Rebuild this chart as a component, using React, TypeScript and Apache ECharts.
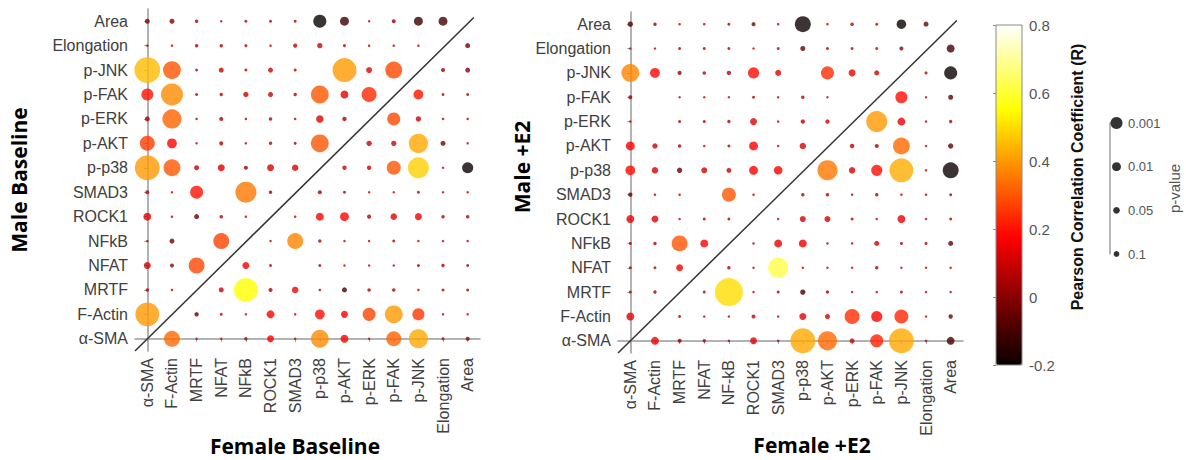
import React, { useEffect, useRef } from "react";
import * as echarts from "echarts";

// category order: index 0 = α-SMA (left / bottom) ... 13 = Area (right / top)
const yCategories = ["α-SMA", "F-Actin", "MRTF", "NFAT", "NFkB", "ROCK1", "SMAD3", "p-p38", "p-AKT", "p-ERK", "p-FAK", "p-JNK", "Elongation", "Area"];
const xCategoriesBaseline = ["α-SMA", "F-Actin", "MRTF", "NFAT", "NFkB", "ROCK1", "SMAD3", "p-p38", "p-AKT", "p-ERK", "p-FAK", "p-JNK", "Elongation", "Area"];
const xCategoriesE2 = ["α-SMA", "F-Actin", "MRTF", "NFAT", "NF-kB", "ROCK1", "SMAD3", "p-p38", "p-AKT", "p-ERK", "p-FAK", "p-JNK", "Elongation", "Area"];

// Rows listed top (Area) to bottom (α-SMA); columns α-SMA ... Area.
// Pearson R values, baseline
const baselineR = [
  [0.0, 0.0, 0.05, 0.08, 0.05, 0.05, 0.05, -0.2, -0.12, 0.08, 0.02, -0.12, -0.1, null],
  [0.08, 0.08, 0.06, 0.06, 0.06, 0.08, 0.08, 0.1, 0.06, 0.08, 0.08, 0.08, null, -0.02],
  [0.45, 0.3, 0.06, 0.1, 0.06, 0.1, 0.06, null, 0.4, 0.13, 0.28, null, 0.03, 0.0],
  [0.2, 0.38, 0.06, 0.06, 0.1, 0.1, 0.06, 0.3, 0.14, 0.23, null, 0.2, 0.06, 0.06],
  [0.06, 0.32, 0.08, 0.06, 0.08, 0.06, 0.08, 0.13, 0.06, null, 0.28, 0.1, 0.08, 0.08],
  [0.26, 0.18, 0.08, 0.06, 0.08, 0.06, 0.06, 0.3, null, 0.1, 0.1, 0.42, -0.02, 0.08],
  [0.4, 0.3, 0.1, 0.12, 0.03, 0.12, 0.12, null, 0.1, 0.1, 0.3, 0.48, 0.08, -0.2],
  [0.06, 0.08, 0.2, null, 0.35, 0.06, null, 0.06, 0.06, 0.08, 0.08, 0.06, 0.08, 0.08],
  [0.13, 0.08, -0.05, 0.06, 0.08, null, 0.08, 0.17, 0.18, 0.06, 0.13, 0.15, 0.06, 0.06],
  [0.08, -0.05, null, 0.27, null, 0.08, 0.37, 0.06, 0.08, 0.08, 0.06, 0.08, 0.08, 0.08],
  [0.1, 0.03, 0.28, null, 0.15, 0.06, null, 0.06, 0.08, 0.08, 0.08, 0.06, 0.06, 0.06],
  [0.06, 0.08, null, 0.1, 0.55, 0.06, 0.15, 0.08, -0.1, 0.06, 0.06, 0.08, 0.06, 0.06],
  [0.4, null, -0.05, 0.08, 0.08, 0.17, 0.08, 0.19, 0.16, 0.27, 0.4, 0.25, 0.08, 0.08],
  [null, 0.33, 0.08, 0.08, 0.06, 0.17, 0.08, 0.38, 0.17, 0.08, 0.32, 0.42, 0.06, 0.0],
];
// -log10(p), baseline
const baselineNegLogP = [
  [0.8, 0.8, 0.3, 0, 0.15, 0.15, 0.15, 3.3, 2.0, 0, 0.5, 2.0, 2.0, null],
  [0, 0, 0.3, 0.3, 0.15, 0, 0.5, 0.9, 0.15, 0, 0, 0, null, 0.8],
  [7.3, 4.8, 0.1, 0.8, 0.15, 0.8, 0.15, null, 6.7, 1.1, 4.5, null, 0.5, 0.8],
  [3.0, 6.1, 0.15, 0.3, 0.9, 0.8, 0.3, 4.8, 1.7, 3.9, null, 2.3, 0.15, 0.15],
  [0.8, 5.2, 0, 0.5, 0, 0.3, 0, 1.55, 0.6, null, 3.3, 0.9, 0, 0],
  [3.9, 2.3, 0, 0.5, 0, 0.3, 0.15, 4.8, null, 0.9, 0.9, 5.2, 0.8, 0],
  [7.0, 4.5, 0.8, 1.4, 0.5, 1.4, 1.25, null, 0.6, 0.6, 3.6, 5.8, 0, 2.7],
  [0.5, 0, 3.3, null, 5.8, 0.3, null, 0.5, 0.15, 0, 0, 0.15, 0, 0],
  [1.7, 0, 0.8, 0.3, 0, null, 0, 1.7, 2.0, 0.5, 1.25, 1.4, 0.3, 0.3],
  [0, 0.8, null, 4.2, null, 0, 4.2, 0.3, 0, 0, 0.15, 0, 0, 0],
  [1.4, 0.5, 4.2, null, 1.4, 0.15, null, 0.15, 0, 0, 0, 0.15, 0.3, 0.15],
  [0.3, 0, null, 0.8, 6.7, 0.5, 1.25, 0, 0.8, 0.3, 0.3, 0, 0.15, 0.15],
  [6.7, null, 0.6, 0.15, 0, 1.7, 0, 2.3, 1.4, 3.3, 4.8, 3.0, 0, 0],
  [null, 4.2, 0, 0, 0.3, 1.4, 0, 4.8, 1.7, 0, 3.9, 5.2, 0.15, 0.5],
];
// Pearson R values, +E2
const e2R = [
  [-0.08, 0.03, 0.08, 0.08, 0.06, -0.03, 0.08, -0.2, 0.08, 0.06, 0.06, -0.2, -0.05, null],
  [0.08, 0.08, 0.06, 0.06, 0.06, 0.08, 0.06, -0.05, 0.06, 0.06, 0.06, 0.02, null, -0.1],
  [0.37, 0.18, 0.03, 0.06, 0.08, 0.19, 0.13, null, 0.24, 0.15, 0.1, null, 0.06, -0.2],
  [0.03, null, 0.08, 0.08, 0.08, 0.06, 0.08, 0.06, 0.08, null, null, 0.19, 0.08, -0.05],
  [0.08, null, 0.06, 0.06, 0.06, 0.13, 0.08, 0.08, 0.1, null, 0.4, 0.15, 0.08, 0.06],
  [0.17, 0.1, 0.06, 0.08, 0.06, 0.17, 0.08, 0.12, null, 0.08, 0.06, 0.33, 0.08, -0.05],
  [0.19, 0.11, -0.04, 0.11, 0.1, 0.17, 0.17, null, 0.35, 0.12, 0.19, 0.43, 0.08, -0.2],
  [-0.05, 0.08, 0.08, null, 0.3, 0.08, null, 0.06, 0.06, 0.08, 0.06, 0.08, 0.08, 0.06],
  [0.15, 0.13, 0.08, 0.06, 0.06, null, 0.08, 0.11, 0.11, 0.06, 0.08, 0.15, 0.08, 0.06],
  [0.06, 0.06, 0.3, 0.17, null, 0.08, 0.15, 0.15, 0.08, 0.08, 0.1, 0.06, 0.06, -0.05],
  [0.06, 0.06, 0.15, null, 0.06, 0.08, 0.62, 0.08, 0.08, 0.08, 0.06, 0.08, 0.08, 0.08],
  [0.06, 0.03, null, 0.06, 0.5, 0.08, 0.06, -0.1, 0.06, 0.08, 0.08, 0.06, 0.08, 0.08],
  [0.15, null, 0.06, 0.08, 0.08, 0.1, 0.08, 0.13, 0.1, 0.24, 0.17, 0.23, 0.08, -0.03],
  [null, 0.15, 0.03, 0.06, 0.08, 0.13, 0.08, 0.42, 0.33, 0.1, 0.22, 0.42, 0.08, -0.1],
];
// -log10(p), +E2
const e2NegLogP = [
  [0.9, 0.3, 0, 0, 0.15, 0.5, 0, 4.2, 0, 0.3, 0.15, 2.2, 0.8, null],
  [0, 0, 0.15, 0.15, 0.15, 0, 0.15, 0.8, 0.15, 0.15, 0.15, 0.5, null, 1.7],
  [4.8, 2.3, 0.5, 0.3, 0.6, 2.7, 1.1, null, 3.3, 1.4, 0.8, null, 0.15, 3.3],
  [0.5, null, 0, 0, 0, 0.15, 0, 0.3, 0, null, null, 3.0, 0, 0.8],
  [0, null, 0.15, 0.15, 0.3, 1.4, 0, 0.6, 0.6, null, 5.8, 1.7, 0, 0.3],
  [2.0, 0.9, 0.3, 0, 0.15, 2.0, 0, 1.25, null, 0.6, 0.5, 4.5, 0, 0.9],
  [2.3, 1.25, 0.9, 1.1, 0.8, 2.0, 1.9, null, 5.5, 1.25, 2.7, 6.7, 0, 4.2],
  [0.6, 0, 0, null, 3.6, 0, null, 0.3, 0.3, 0, 0.3, 0, 0, 0.15],
  [1.7, 1.4, 0, 0.15, 0.15, null, 0, 1.1, 1.1, 0.15, 0, 1.7, 0, 0.15],
  [0.15, 0.3, 4.2, 1.7, null, 0, 1.7, 1.7, 0, 0, 0.8, 0.15, 0.15, 0.8],
  [0.15, 0.15, 1.4, null, 0.3, 0, 5.5, 0, 0, 0, 0.3, 0, 0, 0],
  [0.15, 0.3, null, 0.15, 8.0, 0, 0.15, 0.9, 0.3, 0, 0, 0.15, 0, 0],
  [1.7, null, 0.15, 0, 0, 0.5, 0, 1.4, 0.8, 3.9, 2.7, 3.6, 0, 0.6],
  [null, 1.7, 0.5, 0.3, 0, 1.4, 0, 7.0, 5.2, 0.8, 3.3, 7.0, 0, 1.7],
];

const pLegendValues = [0.1, 0.05, 0.01, 0.001];
const colorbarMin = -0.2;
const colorbarMax = 0.8;
const colorbarStep = 0.2;
// diagonal separator: from lower-left corner of the matrix to near the top-right cell
const diagonalStart = [-0.5, -0.5];
const diagonalEnd = [13.25, 13.15];

const hotColors = ["#0b0000", "#550000", "#aa0000", "#ff0000", "#ff5500", "#ffaa00", "#ffff00", "#ffff80", "#ffffff"];

const sizeFromNegLogP = (v: number) => 2.5 + 3.2 * Math.max(0, v);

function buildCells(R: (number | null)[][], N: (number | null)[][]) {
  const out: number[][] = [];
  const n = R.length;
  R.forEach((row, r) => {
    row.forEach((val, c) => {
      const s = N[r][c];
      if (val === null || s === null) return;
      out.push([c, n - 1 - r, val, s]);
    });
  });
  return out;
}

const axisGrey = "#9a9a9a";
const labelFont = "Liberation Sans, Arial, sans-serif";
const titleFont = "Open Sans, Liberation Sans, sans-serif";

function catX(gridIndex: number, data: string[]) {
  return {
    type: "category",
    gridIndex,
    data,
    boundaryGap: true,
    axisLine: { show: true, lineStyle: { color: axisGrey, width: 1.5 } },
    axisTick: { show: true, alignWithLabel: true, length: 3, lineStyle: { color: axisGrey } },
    axisLabel: { rotate: 90, interval: 0, color: "#404040", fontSize: 16, fontFamily: labelFont, margin: 7 },
    splitLine: { show: false },
  };
}
function catY(gridIndex: number, data: string[]) {
  return {
    type: "category",
    gridIndex,
    data,
    boundaryGap: true,
    axisLine: { show: true, lineStyle: { color: axisGrey, width: 1.5 } },
    axisTick: { show: true, alignWithLabel: true, length: 3, lineStyle: { color: axisGrey } },
    axisLabel: { interval: 0, color: "#404040", fontSize: 16, fontFamily: labelFont, margin: 7 },
    splitLine: { show: false },
  };
}
function hiddenValue(gridIndex: number, min: number, max: number) {
  return { type: "value", gridIndex, min, max, show: false };
}

export default function App() {
  const ref = useRef<HTMLDivElement>(null);
  useEffect(() => {
    if (!ref.current) return;
    const chart = echarts.init(ref.current, null, { renderer: "svg" });
    const baseCells = buildCells(baselineR, baselineNegLogP);
    const e2Cells = buildCells(e2R, e2NegLogP);
    const scatterSize = (v: number[]) => sizeFromNegLogP(v[3]);

    chart.setOption({
      animation: false,
      backgroundColor: "#ffffff",
      grid: [
        { left: 135, top: 9, width: 345, height: 342 },
        { left: 618, top: 12, width: 345, height: 341 },
        { left: 996, top: 25, width: 26, height: 340, show: true, borderColor: "#8a8a8a", borderWidth: 1, backgroundColor: "transparent", z: 10 },
        { left: 1110, top: 123, width: 13, height: 131 },
      ],
      xAxis: [
        catX(0, xCategoriesBaseline),
        catX(1, xCategoriesE2),
        hiddenValue(0, -0.5, 13.5),
        hiddenValue(1, -0.5, 13.5),
        hiddenValue(2, 0, 1),
        hiddenValue(3, 0, 2),
      ],
      yAxis: [
        catY(0, yCategories),
        catY(1, yCategories),
        hiddenValue(0, -0.5, 13.5),
        hiddenValue(1, -0.5, 13.5),
        {
          type: "value",
          gridIndex: 2,
          min: colorbarMin,
          max: colorbarMax,
          interval: colorbarStep,
          position: "right",
          z: 11,
          axisLine: { show: false },
          axisTick: { show: true, inside: true, length: 3, lineStyle: { color: "#8a8a8a" } },
          axisLabel: { color: "#555555", fontSize: 15, fontFamily: labelFont, margin: 7 },
          splitLine: { show: false },
        },
        {
          type: "category",
          gridIndex: 3,
          data: pLegendValues.map(String),
          boundaryGap: false,
          position: "right",
          axisLine: { show: true, lineStyle: { color: "#a0a0a0", width: 1.5 } },
          axisTick: { show: false },
          axisLabel: { color: "#555555", fontSize: 13, fontFamily: labelFont, margin: 5 },
          name: "p-value",
          nameLocation: "middle",
          nameRotate: 90,
          nameGap: 44,
          nameTextStyle: { color: "#555555", fontSize: 15, fontFamily: labelFont },
        },
      ],
      visualMap: {
        type: "continuous",
        min: colorbarMin,
        max: colorbarMax,
        dimension: 2,
        seriesIndex: [0, 1],
        orient: "vertical",
        left: 996,
        top: 25,
        itemWidth: 26,
        itemHeight: 340,
        padding: 0,
        calculable: false,
        realtime: false,
        hoverLink: false,
        inRange: { color: hotColors },
        textStyle: { color: "transparent" },
        text: null,
        show: true,
      },
      graphic: [
        { type: "text", x: 19, y: 180, rotation: Math.PI / 2, style: { text: "Male Baseline", font: `bold 21px ${titleFont}`, fill: "#000", align: "center", verticalAlign: "middle" } },
        { type: "text", x: 295, y: 446, style: { text: "Female Baseline", font: `bold 21px ${titleFont}`, fill: "#000", align: "center", verticalAlign: "middle" } },
        { type: "text", x: 522, y: 167, rotation: Math.PI / 2, style: { text: "Male +E2", font: `bold 21px ${titleFont}`, fill: "#000", align: "center", verticalAlign: "middle" } },
        { type: "text", x: 812, y: 445, style: { text: "Female +E2", font: `bold 21px ${titleFont}`, fill: "#000", align: "center", verticalAlign: "middle" } },
        { type: "text", x: 1077, y: 177, rotation: Math.PI / 2, style: { text: "Pearson Correlation Coefficient (R)", font: `bold 16px ${labelFont}`, fill: "#111", align: "center", verticalAlign: "middle" } },
      ],
      series: [
        { type: "scatter", xAxisIndex: 0, yAxisIndex: 0, data: baseCells, symbolSize: scatterSize, silent: true, z: 3 },
        { type: "scatter", xAxisIndex: 1, yAxisIndex: 1, data: e2Cells, symbolSize: scatterSize, silent: true, z: 3 },
        { type: "line", xAxisIndex: 2, yAxisIndex: 2, data: [diagonalStart, diagonalEnd], symbol: "none", silent: true, lineStyle: { color: "#333333", width: 1.5 }, z: 4 },
        { type: "line", xAxisIndex: 3, yAxisIndex: 3, data: [diagonalStart, diagonalEnd], symbol: "none", silent: true, lineStyle: { color: "#333333", width: 1.5 }, z: 4 },
        {
          type: "scatter",
          xAxisIndex: 5,
          yAxisIndex: 5,
          data: pLegendValues.map((p, i) => [1, i, p]),
          symbolSize: (v: number[]) => sizeFromNegLogP(-Math.log10(v[2])),
          itemStyle: { color: "#000000" },
          silent: true,
        },
      ],
    });
    return () => chart.dispose();
  }, []);
  return <div ref={ref} style={{ position: "fixed", left: 0, top: 0, width: 1186, height: 460, background: "#fff" }} />;
}
